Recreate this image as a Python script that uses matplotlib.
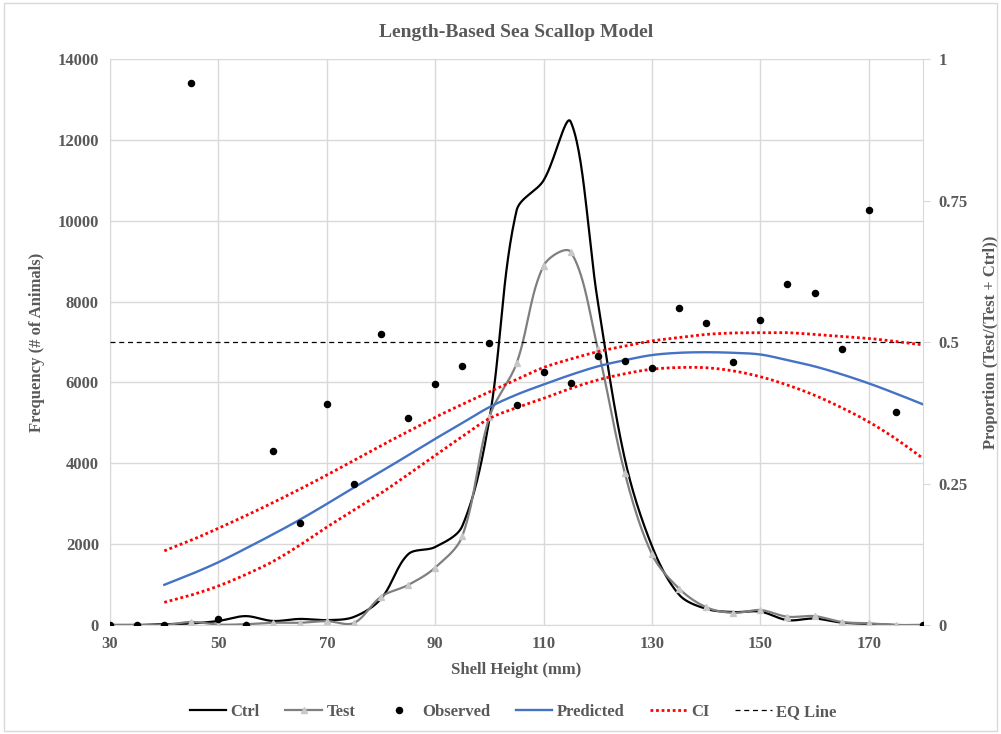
import numpy as np
import matplotlib
matplotlib.use("Agg")
import matplotlib.pyplot as plt
from matplotlib.lines import Line2D
from matplotlib.patches import Rectangle

# ---------------- data ----------------
shell_height = [30, 35, 40, 45, 50, 55, 60, 65, 70, 75, 80, 85, 90, 95, 100, 105,
                110, 115, 120, 125, 130, 135, 140, 145, 150, 155, 160, 165, 170, 175, 180]
ctrl = [0, 0, 20, 40, 100, 220, 100, 150, 120, 200, 650, 1750, 1930, 2450, 5100, 10250,
        11000, 12450, 8000, 4100, 1950, 750, 400, 320, 330, 120, 160, 60, 30, 0, 0]
test = [0, 0, 0, 75, 10, 20, 55, 55, 95, 50, 700, 990, 1420, 2200, 5150, 6470,
        8890, 9230, 6840, 3750, 1750, 900, 440, 300, 370, 205, 220, 75, 40, 0, 0]
observed = [0, 0, 0, 0.957, 0.010, 0, 0.308, 0.181, 0.391, 0.249, 0.515, 0.365, 0.425,
            0.458, 0.499, 0.388, 0.447, 0.428, 0.476, 0.467, 0.455, 0.560, 0.533, 0.465,
            0.539, 0.602, 0.586, 0.487, 0.733, 0.376, 0]

model_x = [40, 45, 50, 55, 60, 65, 70, 75, 80, 85, 90, 95, 100, 105, 110, 115, 120,
           125, 130, 135, 140, 145, 150, 155, 160, 165, 170, 175, 180]
predicted = [0.071, 0.090, 0.111, 0.135, 0.160, 0.186, 0.214, 0.243, 0.271, 0.300, 0.329,
             0.357, 0.385, 0.407, 0.425, 0.442, 0.457, 0.468, 0.477, 0.481, 0.482, 0.481,
             0.478, 0.468, 0.457, 0.443, 0.427, 0.409, 0.390]
ci_upper = [0.131, 0.150, 0.171, 0.193, 0.216, 0.240, 0.265, 0.291, 0.317, 0.342, 0.367,
            0.390, 0.412, 0.434, 0.455, 0.470, 0.483, 0.493, 0.502, 0.508, 0.5135, 0.516,
            0.5165, 0.5165, 0.5135, 0.510, 0.5065, 0.501, 0.495]
ci_lower = [0.040, 0.053, 0.069, 0.089, 0.112, 0.141, 0.173, 0.203, 0.233, 0.266, 0.300,
            0.333, 0.365, 0.384, 0.4005, 0.418, 0.433, 0.444, 0.452, 0.455, 0.4546, 0.449,
            0.4387, 0.424, 0.406, 0.384, 0.359, 0.329, 0.2945]
eq_x = [30, 180]
eq_y = [0.5, 0.5]

x_ticks = [30, 50, 70, 90, 110, 130, 150, 170]
y_ticks = [0, 2000, 4000, 6000, 8000, 10000, 12000, 14000]
y2_ticks = [0, 0.25, 0.5, 0.75, 1]
y2_labels = ["0", "0.25", "0.5", "0.75", "1"]


def smooth(x, y, xscale, yscale, n=30):
    """Excel-like smoothed line: Bezier segments whose control arms follow the
    neighbouring points, with arm lengths scaled by on-screen segment lengths."""
    px = np.asarray(x, float) * xscale
    py = np.asarray(y, float) * yscale
    pts = np.column_stack([px, py])
    m = len(pts)
    out = []
    for i in range(m - 1):
        p1 = pts[i]
        p2 = pts[i + 1]
        seg = np.linalg.norm(p2 - p1)
        if i > 0:
            p0 = pts[i - 1]
            l0 = np.linalg.norm(p1 - p0)
            tan = p2 - p0
            c1 = p1 + tan * seg / (l0 + seg + 1e-12) / 3.0
        else:
            c1 = p1 + (p2 - p1) / 3.0
        if i + 2 < m:
            p3 = pts[i + 2]
            l3 = np.linalg.norm(p3 - p2)
            tan = p3 - p1
            c2 = p2 - tan * seg / (l3 + seg + 1e-12) / 3.0
        else:
            c2 = p2 - (p2 - p1) / 3.0
        t = np.linspace(0, 1, n, endpoint=False)[:, None]
        b = (1 - t) ** 3 * p1 + 3 * (1 - t) ** 2 * t * c1 + 3 * (1 - t) * t ** 2 * c2 + t ** 3 * p2
        out.append(b)
    out.append(pts[-1:])
    s = np.vstack(out)
    return s[:, 0] / xscale, s[:, 1] / yscale


# ---------------- style ----------------
plt.rcParams['font.family'] = ['Liberation Serif', 'DejaVu Serif']
plt.rcParams['font.weight'] = 'bold'
TXT = '#595959'
GRID = '#d9d9d9'

W_PX, H_PX = 1001, 734
AX_RECT = [0.110, 0.1485, 0.812, 0.771]
XS = AX_RECT[2] * W_PX / 150.0          # px per mm
YS1 = AX_RECT[3] * H_PX / 14000.0       # px per animal
YS2 = AX_RECT[3] * H_PX / 1.0           # px per proportion unit

fig = plt.figure(figsize=(W_PX / 100, H_PX / 100), dpi=100)
fig.patches.append(Rectangle((0.004, 0.004), 0.992, 0.992, transform=fig.transFigure,
                             fill=False, edgecolor=GRID, linewidth=1))

ax = fig.add_axes(AX_RECT)
ax2 = ax.twinx()

# primary: frequencies
cx, cy = smooth(shell_height, ctrl, XS, YS1)
ax.plot(cx, cy, color='black', lw=1.6, zorder=3)
tx, ty = smooth(shell_height, test, XS, YS1)
ax.plot(tx, ty, color='#7f7f7f', lw=1.6, zorder=3)
ax.plot(shell_height, test, linestyle='none', marker='^', markersize=4,
        markerfacecolor='#c8c8c8', markeredgecolor='#c8c8c8', zorder=4)

ax.set_xlim(30, 180)
ax.set_ylim(0, 14000)
ax.set_xticks(x_ticks)
ax.set_yticks(y_ticks)
ax.grid(True, color=GRID, lw=1)
ax.set_axisbelow(True)
ax.tick_params(axis='both', length=0, labelsize=12, labelcolor=TXT, pad=8)
for lab in ax.get_xticklabels() + ax.get_yticklabels():
    lab.set_fontweight('bold')
for sp in ['top', 'right']:
    ax.spines[sp].set_visible(False)
ax.spines['left'].set_color(GRID)
ax.spines['bottom'].set_color(GRID)
ax.set_xlabel('Shell Height (mm)', fontsize=12, fontweight='bold', color=TXT, labelpad=7)
ax.set_ylabel('Frequency (# of Animals)', fontsize=12, fontweight='bold', color=TXT, labelpad=9)

# secondary: proportion
ax2.plot(eq_x, eq_y, color='black', lw=0.9, linestyle=(0, (4, 3)), zorder=2)
ux, uy = smooth(model_x, ci_upper, XS, YS2)
ax2.plot(ux, uy, color='#ff0000', lw=2.0, linestyle=(0, (1, 1)), zorder=3)
lx, ly = smooth(model_x, ci_lower, XS, YS2)
ax2.plot(lx, ly, color='#ff0000', lw=2.0, linestyle=(0, (1, 1)), zorder=3)
px, py = smooth(model_x, predicted, XS, YS2)
ax2.plot(px, py, color='#4472c4', lw=1.7, zorder=4)
ax2.plot(shell_height, observed, linestyle='none', marker='o', markersize=4.4,
         color='black', zorder=5)

ax2.set_ylim(0, 1)
ax2.set_yticks(y2_ticks)
ax2.set_yticklabels(y2_labels)
ax2.tick_params(axis='y', length=5, color=GRID, labelsize=12, labelcolor=TXT, pad=6)
for lab in ax2.get_yticklabels():
    lab.set_fontweight('bold')
for sp in ['top', 'left', 'bottom']:
    ax2.spines[sp].set_visible(False)
ax2.spines['right'].set_color(GRID)
ax2.set_ylabel('Proportion (Test/(Test + Ctrl))', fontsize=12, fontweight='bold',
               color=TXT, labelpad=11)

fig.suptitle('Length-Based Sea Scallop Model', x=0.5155, y=0.967, fontsize=14,
             fontweight='bold', color=TXT)

handles = [
    Line2D([], [], color='black', lw=1.6),
    Line2D([], [], color='#7f7f7f', lw=1.6, marker='^', markersize=4,
           markerfacecolor='#c8c8c8', markeredgecolor='#c8c8c8'),
    Line2D([], [], linestyle='none', marker='o', markersize=4.4, color='black'),
    Line2D([], [], color='#4472c4', lw=1.7),
    Line2D([], [], color='#ff0000', lw=2.0, linestyle=(0, (1, 1))),
    Line2D([], [], color='black', lw=0.9, linestyle=(0, (4, 3))),
]
labels = ['Ctrl', 'Test', 'Observed', 'Predicted', 'CI', 'EQ Line']
leg = fig.legend(handles, labels, loc='center', bbox_to_anchor=(0.5125, 0.030), ncol=6,
                 frameon=False, fontsize=12, handlelength=2.2, handletextpad=0.25,
                 columnspacing=1.55)
for t in leg.get_texts():
    t.set_color(TXT)
    t.set_fontweight('bold')

fig.savefig('out.png', dpi=100)
